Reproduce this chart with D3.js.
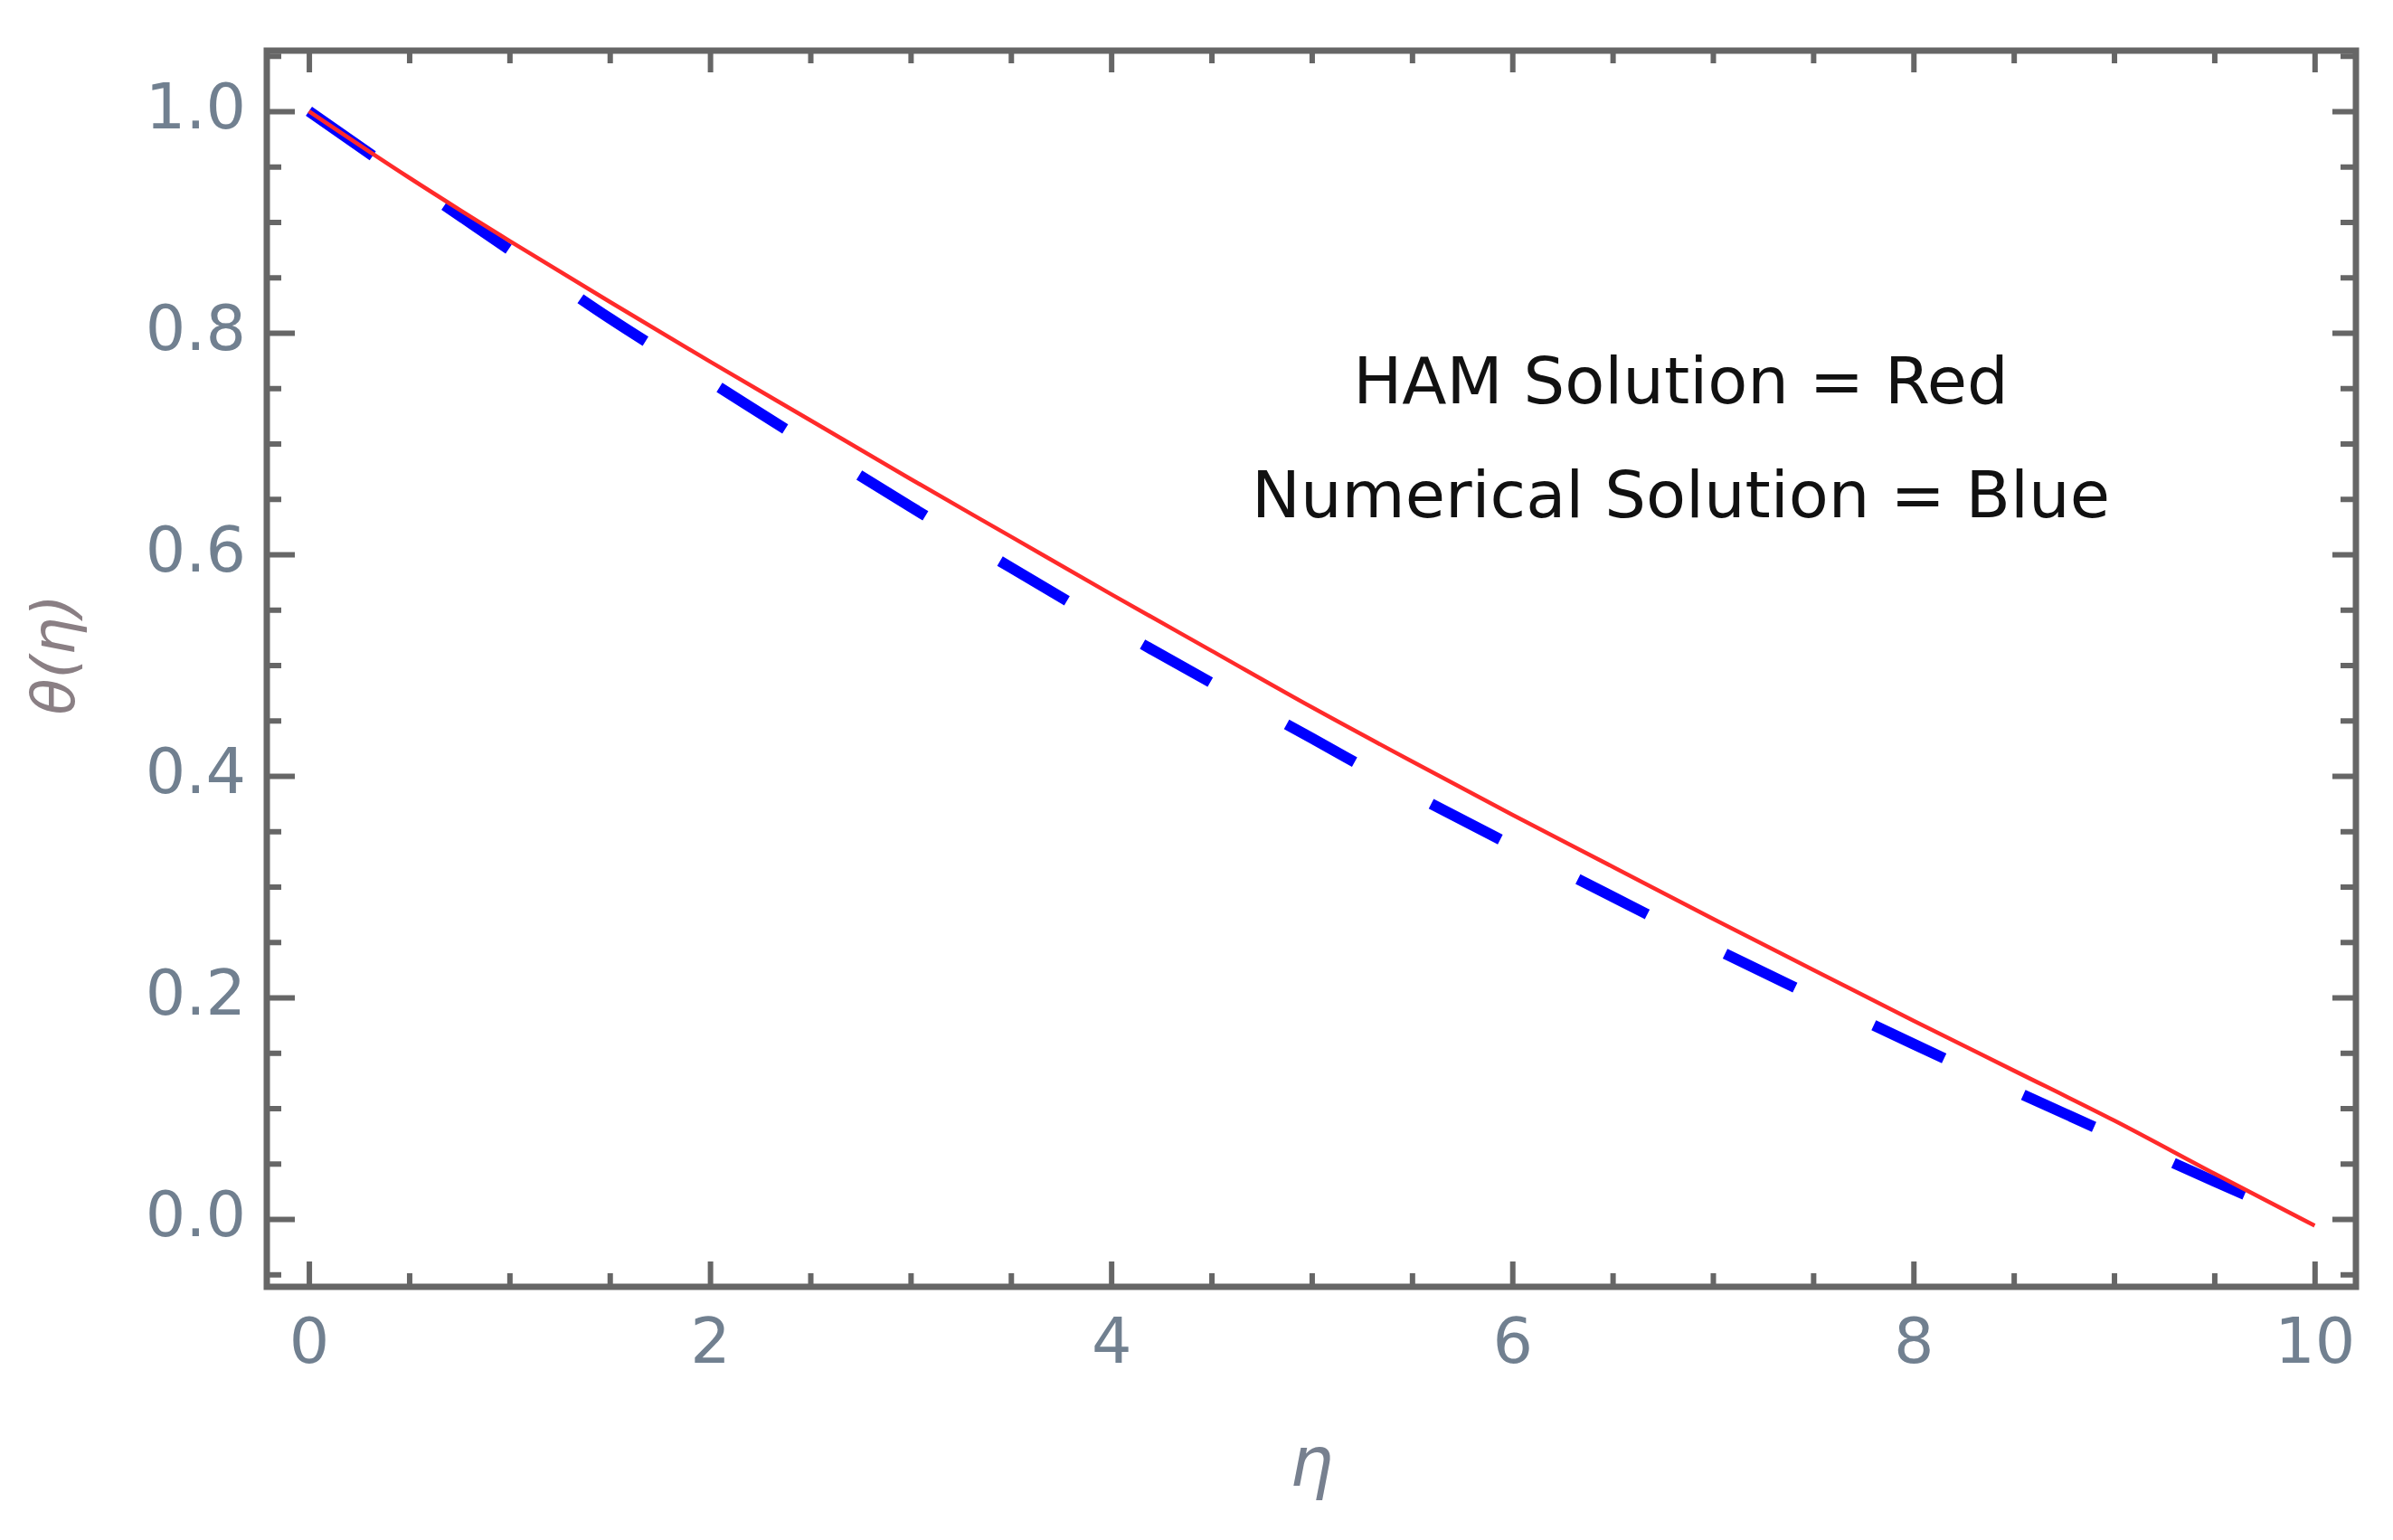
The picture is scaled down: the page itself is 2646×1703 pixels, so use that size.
<!DOCTYPE html>
<meta charset="utf-8">
<style>

body {
  margin: 0;
  background: #fff;
}

.frame {
  fill: none;
  stroke: #666;
  stroke-width: 7px;
}

.axis line {
  stroke: #666;
  stroke-width: 6px;
}

.axis path {
  display: none;
}

.axis text {
  font-family: "DejaVu Sans", sans-serif;
  font-size: 70px;
  fill: #718090;
}

.legend text {
  font-family: "DejaVu Sans", sans-serif;
  font-size: 72px;
  fill: #111;
}

</style>
<svg width="2646" height="1703"></svg>
<script src="https://cdn.jsdelivr.net/npm/d3@7/dist/d3.min.js"></script>
<script>

// values
var eta = [0, 0.5, 1, 1.5, 2, 2.5, 3, 3.5, 4, 4.5, 5, 5.5, 6, 6.5, 7, 7.5, 8, 8.5, 9, 9.5, 10];
var hamSolution = [1.0, 0.940, 0.883, 0.828, 0.774, 0.721, 0.668, 0.616, 0.564, 0.513, 0.462,
                   0.413, 0.365, 0.318, 0.271, 0.225, 0.179, 0.134, 0.089, 0.041, -0.006];
var numericalSolution = [1.0, 0.937, 0.875, 0.813, 0.756, 0.699, 0.643, 0.588, 0.535, 0.484, 0.434,
                         0.384, 0.337, 0.291, 0.245, 0.201, 0.158, 0.116, 0.075, 0.034, -0.005];

var xMajorTicks = [0, 2, 4, 6, 8, 10];
var xMinorTicks = [0.5, 1, 1.5, 2.5, 3, 3.5, 4.5, 5, 5.5, 6.5, 7, 7.5, 8.5, 9, 9.5];
var yMajorTicks = [0, 0.2, 0.4, 0.6, 0.8, 1.0];
var yMinorTicks = [-0.05, 0.05, 0.1, 0.15, 0.25, 0.3, 0.35, 0.45, 0.5, 0.55, 0.65, 0.7, 0.75,
                   0.85, 0.9, 0.95, 1.05];

var legendLines = ["HAM Solution = Red", "Numerical Solution = Blue"];
var xLabel = "η";
var yLabel = "θ(η)";

var svg = d3.select("svg"),
    plotLeft = 295, plotRight = 2605, plotTop = 56, plotBottom = 1423;

var x = d3.scaleLinear().domain([-0.21, 10.206]).range([plotLeft, plotRight]);
var y = d3.scaleLinear().domain([-0.0612, 1.0547]).range([plotBottom, plotTop]);

svg.append("rect")
    .attr("width", 2646)
    .attr("height", 1703)
    .attr("fill", "#fff");

// curves
var line = d3.line()
    .x(function(d) { return x(d[0]); })
    .y(function(d) { return y(d[1]); })
    .curve(d3.curveMonotoneX);

svg.append("path")
    .datum(d3.zip(eta, numericalSolution))
    .attr("d", line)
    .attr("fill", "none")
    .attr("stroke", "#0000ff")
    .attr("stroke-width", 12)
    .attr("stroke-dasharray", "86,96.4");

svg.append("path")
    .datum(d3.zip(eta, hamSolution))
    .attr("d", line)
    .attr("fill", "none")
    .attr("stroke", "#ff2a2a")
    .attr("stroke-width", 4.5);

// frame ticks (pointing inwards on all four sides)
svg.append("g")
    .attr("class", "axis")
    .attr("transform", "translate(0," + plotBottom + ")")
    .call(d3.axisBottom(x).tickValues(xMajorTicks).tickSize(-28).tickPadding(34)
      .tickFormat(d3.format("d")));

svg.append("g")
    .attr("class", "axis")
    .attr("transform", "translate(0," + plotBottom + ")")
    .call(d3.axisBottom(x).tickValues(xMinorTicks).tickSize(-15).tickFormat(""));

svg.append("g")
    .attr("class", "axis")
    .attr("transform", "translate(0," + plotTop + ")")
    .call(d3.axisTop(x).tickValues(xMajorTicks).tickSize(-24).tickFormat(""));

svg.append("g")
    .attr("class", "axis")
    .attr("transform", "translate(0," + plotTop + ")")
    .call(d3.axisTop(x).tickValues(xMinorTicks).tickSize(-14).tickFormat(""));

var yAxis = svg.append("g")
    .attr("class", "axis")
    .attr("transform", "translate(" + plotLeft + ",0)")
    .call(d3.axisLeft(y).tickValues(yMajorTicks).tickSize(-31).tickPadding(23)
      .tickFormat(d3.format(".1f")));
yAxis.selectAll("text").attr("dy", "0.26em");

svg.append("g")
    .attr("class", "axis")
    .attr("transform", "translate(" + plotLeft + ",0)")
    .call(d3.axisLeft(y).tickValues(yMinorTicks).tickSize(-16).tickFormat(""));

svg.append("g")
    .attr("class", "axis")
    .attr("transform", "translate(" + plotRight + ",0)")
    .call(d3.axisRight(y).tickValues(yMajorTicks).tickSize(-26).tickFormat(""));

svg.append("g")
    .attr("class", "axis")
    .attr("transform", "translate(" + plotRight + ",0)")
    .call(d3.axisRight(y).tickValues(yMinorTicks).tickSize(-17).tickFormat(""));

svg.append("rect")
    .attr("class", "frame")
    .attr("x", plotLeft)
    .attr("y", plotTop)
    .attr("width", plotRight - plotLeft)
    .attr("height", plotBottom - plotTop);

// axis labels
svg.append("text")
    .attr("x", (plotLeft + plotRight) / 2)
    .attr("y", 1643)
    .attr("text-anchor", "middle")
    .style("font-family", "DejaVu Sans, sans-serif")
    .style("font-size", "76px")
    .style("font-style", "italic")
    .attr("fill", "#77808f")
    .text(xLabel);

svg.append("text")
    .attr("transform", "translate(82," + 724 + ") rotate(-90)")
    .attr("text-anchor", "middle")
    .style("font-family", "DejaVu Sans, sans-serif")
    .style("font-size", "66px")
    .style("font-style", "italic")
    .attr("fill", "#8a7f84")
    .text(yLabel);

// text inside the plot
svg.append("g")
    .attr("class", "legend")
    .selectAll("text")
    .data(legendLines)
    .enter().append("text")
    .attr("x", x(6.84))
    .attr("y", function(d, i) { return y(i === 0 ? 0.7576 : 0.6547); })
    .attr("dy", "0.36em")
    .attr("text-anchor", "middle")
    .text(function(d) { return d; });

</script>
